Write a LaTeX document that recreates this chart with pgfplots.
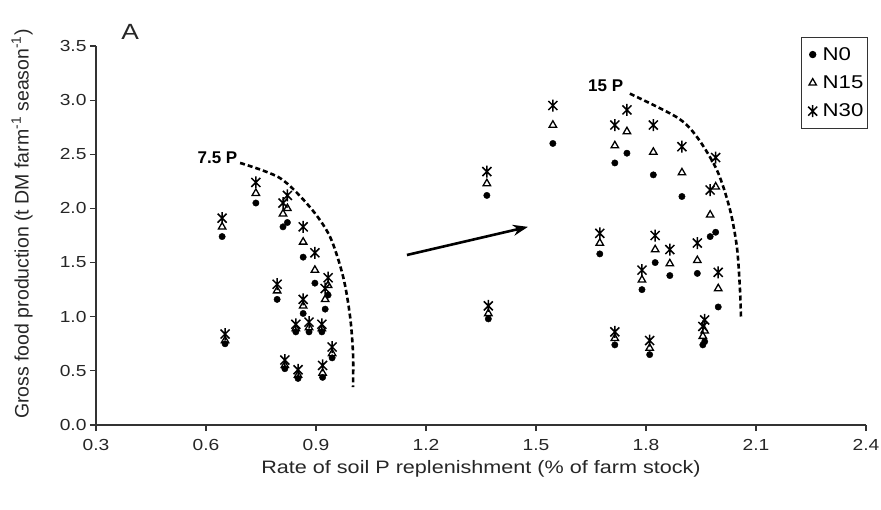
\documentclass[border=0pt]{standalone}
\usepackage{pgfplots}
\pgfplotsset{compat=1.18}
\usepackage{pgfplotstable}
\usepackage{fontspec}
\setmainfont{Liberation Sans}
\newfontfamily\wide{Liberation Sans}[FakeStretch=1.2]
\usetikzlibrary{arrows.meta}

\pgfdeclareplotmark{xstar}{%
  \pgfpathmoveto{\pgfqpoint{0pt}{\pgfplotmarksize}}%
  \pgfpathlineto{\pgfqpoint{0pt}{-\pgfplotmarksize}}%
  \pgfpathmoveto{\pgfqpoint{-0.75\pgfplotmarksize}{0.75\pgfplotmarksize}}%
  \pgfpathlineto{\pgfqpoint{0.75\pgfplotmarksize}{-0.75\pgfplotmarksize}}%
  \pgfpathmoveto{\pgfqpoint{-0.75\pgfplotmarksize}{-0.75\pgfplotmarksize}}%
  \pgfpathlineto{\pgfqpoint{0.75\pgfplotmarksize}{0.75\pgfplotmarksize}}%
  \pgfusepathqstroke}

\pgfplotstableread{
x n0 n15 n30
0.644 1.74 1.83 1.91
0.652 0.75 0.78 0.84
0.736 2.05 2.14 2.24
0.794 1.16 1.24 1.30
0.810 1.83 1.95 2.05
0.822 1.87 2.00 2.12
0.865 1.55 1.69 1.83
0.897 1.31 1.43 1.59
0.933 1.20 1.29 1.36
0.925 1.07 1.16 1.26
0.865 1.03 1.10 1.16
0.845 0.86 0.89 0.93
0.881 0.86 0.90 0.95
0.916 0.86 0.89 0.93
0.944 0.62 0.66 0.72
0.918 0.44 0.48 0.55
0.815 0.52 0.55 0.60
0.851 0.43 0.46 0.51
1.366 2.12 2.23 2.34
1.370 0.98 1.03 1.10
1.546 2.60 2.77 2.95
1.715 2.42 2.58 2.77
1.748 2.51 2.71 2.91
1.820 2.31 2.52 2.77
1.898 2.11 2.33 2.57
1.990 1.78 2.20 2.47
1.975 1.74 1.94 2.17
1.674 1.58 1.68 1.77
1.825 1.50 1.62 1.75
1.865 1.38 1.49 1.62
1.940 1.40 1.52 1.68
1.789 1.25 1.34 1.43
1.997 1.09 1.26 1.41
1.960 0.77 0.87 0.97
1.955 0.74 0.82 0.91
1.715 0.74 0.80 0.86
1.810 0.65 0.71 0.78
}\data

\begin{document}
\begin{tikzpicture}
\useasboundingbox (-96pt,-84pt) rectangle (785pt,425pt);
\begin{axis}[
  name=ax,
  scale only axis,
  width=770pt, height=379pt,
  xmin=0.3, xmax=2.4, ymin=0, ymax=3.5,
  xtick={0.3,0.6,...,2.41}, ytick={0,0.5,...,3.51},
  axis lines=left,
  axis line style={-, line width=1.3pt, black!80},
  tick style={line width=1.1pt, black!80},
  tick align=outside, major tick length=6pt,
  /pgf/number format/assume math mode=true,
  /pgf/number format/.cd, fixed, fixed zerofill, precision=1, /pgfplots/.cd,
  ticklabel style={font=\wide\fontsize{16}{19}\selectfont, text=black!85},
  xticklabel style={yshift=-5pt},
  xlabel={Rate of soil P replenishment (\% of farm stock)},
  ylabel={Gross food production (t DM farm\textsuperscript{-1} season\textsuperscript{-1})},
  label style={text=black!85},
  xlabel style={font=\wide\fontsize{18}{21}\selectfont, at={(axis description cs:0.5,-0.115)}, anchor=center},
  ylabel style={font=\fontsize{19.5}{22}\selectfont, at={(axis description cs:-0.096,0.53)}, anchor=center},
  clip=false,
  legend style={at={(1.003,1.024)}, anchor=north east, draw=black!80, line width=0.9pt,
    font=\wide\fontsize{18.5}{21}\selectfont, row sep=10pt, inner xsep=3pt, inner ysep=8pt,
    nodes={inner xsep=1.5pt}},
  legend cell align=left,
  legend image code/.code={\path (0,0) (0.55cm,0); \draw[#1] plot coordinates {(0.28cm,0cm)};},
]
\addplot[only marks, mark=*, mark size=3.2pt, black] table[x=x, y=n0] {\data};
\addlegendentry{N0}
\addplot[only marks, mark=triangle, mark size=4.3pt, black, line width=1.3pt] table[x=x, y=n15] {\data};
\addlegendentry{N15}
\addplot[only marks, mark=xstar, mark size=6pt, black, line width=1.5pt] table[x=x, y=n30] {\data};
\addlegendentry{N30}

\addplot[black, line width=2.6pt, dash pattern=on 5pt off 3pt, smooth, forget plot] coordinates {
(0.693,2.42) (0.802,2.28) (0.884,2.01) (0.938,1.74) (0.974,1.37) (0.993,1.00) (1.001,0.66) (1.001,0.35)};
\addplot[black, line width=2.6pt, dash pattern=on 5pt off 3pt, smooth, forget plot] coordinates {
(1.756,3.06) (1.885,2.84) (1.939,2.66) (1.994,2.35) (2.029,1.99) (2.048,1.64) (2.056,1.27) (2.059,1.0)};
\addplot[black, line width=2.6pt, -{Stealth[length=15pt,width=11pt]}, forget plot] coordinates {(1.148,1.57) (1.478,1.83)};

\node[font=\bfseries\fontsize{17}{20}\selectfont, anchor=east] at (axis cs:0.695,2.47) {7.5 P};
\node[font=\bfseries\fontsize{17}{20}\selectfont] at (axis cs:1.69,3.13) {15 P};
\node[font=\wide\fontsize{22}{24}\selectfont, text=black!85] at (axis cs:0.393,3.63) {A};
\end{axis}
\end{tikzpicture}
\end{document}
